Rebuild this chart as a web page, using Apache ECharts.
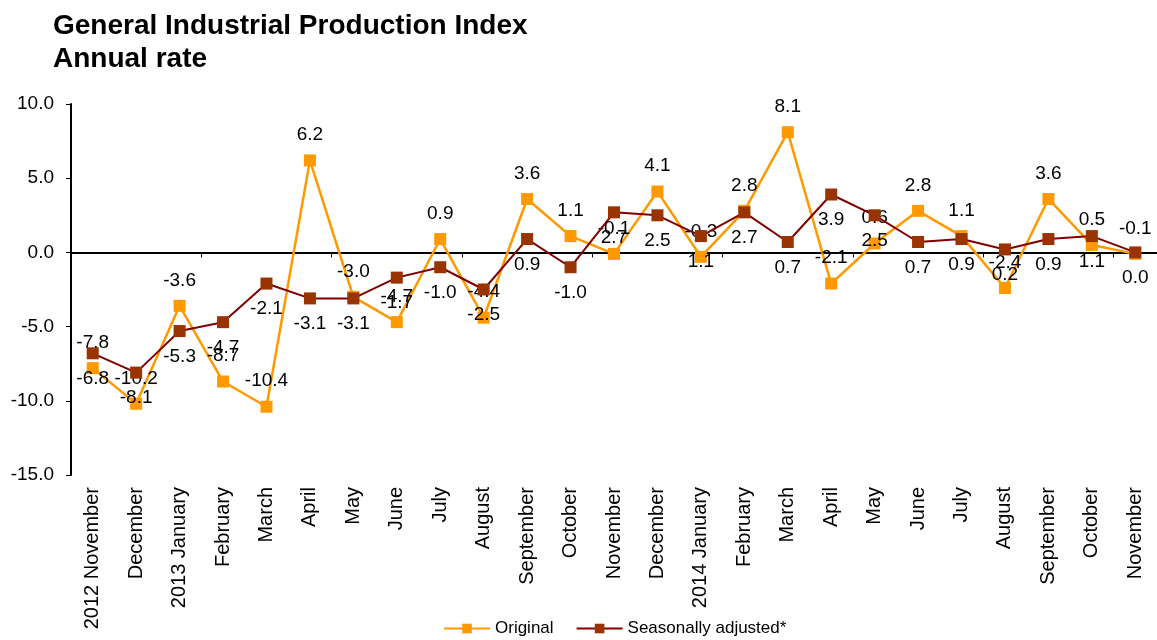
<!DOCTYPE html>
<html>
<head>
<meta charset="utf-8">
<script src="https://cdn.jsdelivr.net/npm/echarts@6/dist/echarts.min.js"></script>
<style>
  html, body { margin: 0; padding: 0; background: #fff; }
  #chart { width: 1157px; height: 640px; }
</style>
</head>
<body>
<div id="chart"></div>
<script>
let months = ['2012 November', 'December', '2013 January', 'February', 'March', 'April', 'May', 'June',
    'July', 'August', 'September', 'October', 'November', 'December', '2014 January', 'February',
    'March', 'April', 'May', 'June', 'July', 'August', 'September', 'October', 'November'];

let original = [-7.8, -10.2, -3.6, -8.7, -10.4, 6.2, -3.0, -4.7, 0.9, -4.4, 3.6, 1.1, -0.1,
    4.1, -0.3, 2.8, 8.1, -2.1, 0.6, 2.8, 1.1, -2.4, 3.6, 0.5, -0.1];

let adjusted = [-6.8, -8.1, -5.3, -4.7, -2.1, -3.1, -3.1, -1.7, -1.0, -2.5, 0.9, -1.0, 2.7,
    2.5, 1.1, 2.7, 0.7, 3.9, 2.5, 0.7, 0.9, 0.2, 0.9, 1.1, 0.0];

let yTicks = [-15, -10, -5, 0, 5, 10];

let font = 'Arial, "Liberation Sans", sans-serif';
let myChart = echarts.init(document.getElementById('chart'));

let option = {
    backgroundColor: '#fff',
    animation: false,
    title: {
        text: 'General Industrial Production Index\nAnnual rate',
        left: 48,
        top: 5,
        textStyle: {
            fontFamily: font,
            fontSize: 28,
            fontWeight: 'bold',
            color: '#000',
            lineHeight: 33
        }
    },
    legend: {
        bottom: -2,
        left: 438,
        itemWidth: 46,
        itemHeight: 12,
        itemGap: 22,
        textStyle: { fontFamily: font, fontSize: 17, color: '#000' },
        data: ['Original', 'Seasonally adjusted*']
    },
    grid: {
        left: 71,
        top: 104,
        height: 371,
        width: 25 * 43.72
    },
    xAxis: [
        {
            type: 'category',
            data: months,
            boundaryGap: true,
            axisLine: { onZero: true, lineStyle: { color: '#000', width: 2 } },
            axisTick: { show: true, length: 5, lineStyle: { color: '#000' } },
            axisLabel: { show: false }
        },
        {
            type: 'category',
            data: months,
            position: 'bottom',
            boundaryGap: true,
            axisLine: { show: false, onZero: false },
            axisTick: { show: false },
            axisLabel: {
                rotate: 90,
                interval: 0,
                margin: 12,
                fontFamily: font,
                fontSize: 20,
                color: '#000'
            }
        }
    ],
    yAxis: {
        type: 'value',
        min: yTicks[0],
        max: yTicks[yTicks.length - 1],
        interval: 5,
        splitLine: { show: false },
        axisLine: { show: true, onZero: false, lineStyle: { color: '#000', width: 2 } },
        axisTick: { show: true, length: 5, lineStyle: { color: '#000' } },
        axisLabel: {
            margin: 17,
            fontFamily: font,
            fontSize: 19,
            color: '#000',
            formatter: function (v) { return v.toFixed(1); }
        }
    },
    series: [
        {
            name: 'Original',
            type: 'line',
            data: original,
            symbol: 'rect',
            symbolSize: 12,
            itemStyle: { color: '#FF9900' },
            lineStyle: { color: '#FF9900', width: 2.5 },
            label: {
                show: true,
                position: 'top',
                distance: 10,
                fontFamily: font,
                fontSize: 19,
                color: '#000',
                formatter: function (p) { return p.value.toFixed(1); }
            },
            z: 3
        },
        {
            name: 'Seasonally adjusted*',
            type: 'line',
            data: adjusted,
            symbol: 'rect',
            symbolSize: 12,
            itemStyle: { color: '#993300' },
            lineStyle: { color: '#800000', width: 2 },
            label: {
                show: true,
                position: 'bottom',
                distance: 10,
                fontFamily: font,
                fontSize: 19,
                color: '#000',
                formatter: function (p) { return p.value.toFixed(1); }
            },
            z: 4
        }
    ]
};
myChart.setOption(option);
</script>
</body>
</html>
